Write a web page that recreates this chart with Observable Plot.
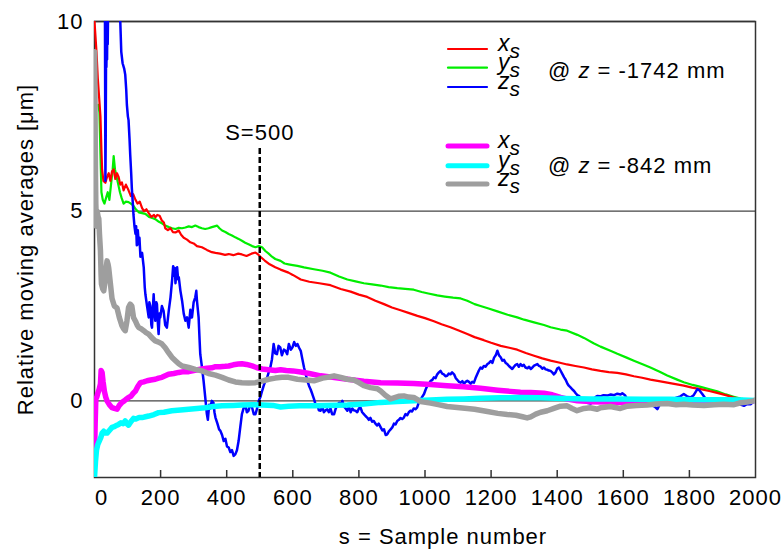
<!DOCTYPE html>
<html><head><meta charset="utf-8">
<script src="https://cdn.jsdelivr.net/npm/d3@7"></script>
<script src="https://cdn.jsdelivr.net/npm/@observablehq/plot@0.6"></script>
<style>
body{margin:0;background:#fff;}
#chart{width:783px;height:557px;}
#chart svg text{letter-spacing:1px;}
</style></head><body><div id="chart"></div>
<script>
// ---- data (sample number s, relative moving average in µm) ----
const xTickLabels = [200,400,600,800,1000,1200,1400,1600,1800,2000];
const xTickMarks = [200,400,600,800,1000,1200,1400,1600,1800];
const zeroLabel = [0];
const yTicks = [0,5,10];
const yDomain = [-2.02, 10];
const xDomain = [0, 2000];
const markerS = [500];
const markerTop = 6.65;
const markerLabel = {s: 500, v: 7.07, text: "S=500"};

const ys_1742 = [[12,7.8],[15,7.6],[18,6.5],[21,5.5],[25,5.3],[30,5.2],[35,5.35],[40,5.5],[45,5.3],[50,5.7],[55,6.1],[58,6.45],[62,6.1],[67,5.9],[72,5.7],[77,5.5],[82,5.35],[88,5.2],[95,5.25],[103,5.24],[110,5.2],[117,5.15],[125,5.05],[134,4.97],[144,4.95],[154,4.93],[165,4.85],[175,4.82],[184,4.79],[195,4.72],[204,4.68],[214,4.62],[225,4.58],[235,4.55],[245,4.53],[255,4.56],[265,4.55],[275,4.57],[285,4.6],[295,4.58],[305,4.62],[315,4.58],[325,4.55],[335,4.53],[345,4.55],[355,4.58],[363,4.6],[371,4.62],[378,4.55],[386,4.49],[396,4.45],[406,4.4],[416,4.36],[426,4.31],[436,4.27],[446,4.22],[456,4.17],[466,4.13],[477,4.08],[487,4.05],[497,4.08],[507,4.05],[517,3.95],[527,3.88],[537,3.8],[547,3.74],[563,3.69],[575,3.62],[587,3.6],[600,3.58],[614,3.56],[634,3.52],[664,3.47],[690,3.43],[714,3.38],[740,3.28],[765,3.2],[790,3.15],[815,3.1],[840,3.07],[866,3.04],[890,3.0],[916,2.97],[940,2.95],[966,2.93],[990,2.87],[1010,2.83],[1037,2.78],[1060,2.75],[1085,2.72],[1108,2.7],[1128,2.64],[1150,2.55],[1168,2.5],[1190,2.44],[1219,2.36],[1250,2.27],[1279,2.2],[1300,2.14],[1330,2.07],[1360,2.0],[1380,1.94],[1410,1.88],[1430,1.85],[1461,1.74],[1481,1.66],[1510,1.52],[1531,1.43],[1561,1.32],[1582,1.24],[1610,1.14],[1632,1.06],[1662,0.95],[1682,0.88],[1710,0.77],[1733,0.67],[1763,0.56],[1783,0.49],[1810,0.42],[1834,0.37],[1864,0.3],[1884,0.25],[1910,0.17],[1934,0.11],[1955,0.06],[1975,0.03],[2000,0]];

const xs_1742 = [[0,10],[3,9.6],[6,9.2],[10,8.5],[14,8.0],[18,7.5],[21,6.6],[23,6.1],[27,5.8],[33,5.75],[38,5.9],[43,6.0],[48,5.8],[53,6.05],[58,6.1],[63,5.85],[68,6.0],[73,5.9],[78,5.7],[83,5.76],[88,5.55],[95,5.7],[103,5.55],[110,5.4],[117,5.45],[124,5.3],[130,5.2],[137,5.25],[144,5.08],[150,5.0],[157,5.05],[164,4.95],[172,4.85],[180,4.9],[184,4.84],[190,4.9],[197,4.88],[204,4.75],[210,4.7],[214,4.55],[222,4.5],[230,4.55],[237,4.45],[245,4.44],[255,4.49],[262,4.38],[270,4.3],[280,4.25],[290,4.18],[300,4.15],[310,4.08],[325,4.05],[340,3.98],[355,3.92],[366,3.9],[380,3.88],[395,3.85],[406,3.87],[420,3.84],[435,3.88],[446,3.86],[460,3.82],[475,3.88],[487,3.91],[495,3.86],[502,3.8],[515,3.7],[530,3.6],[547,3.52],[563,3.46],[575,3.42],[587,3.38],[600,3.32],[624,3.2],[650,3.14],[680,3.1],[714,3.05],[745,2.95],[775,2.88],[800,2.8],[825,2.74],[850,2.64],[876,2.55],[900,2.46],[926,2.39],[950,2.32],[977,2.24],[1000,2.18],[1027,2.1],[1050,2.02],[1077,1.94],[1100,1.86],[1128,1.76],[1150,1.68],[1178,1.6],[1200,1.53],[1229,1.45],[1255,1.4],[1279,1.35],[1305,1.26],[1330,1.19],[1355,1.12],[1380,1.06],[1405,1.01],[1430,0.96],[1455,0.92],[1481,0.88],[1505,0.83],[1531,0.79],[1556,0.76],[1582,0.74],[1608,0.7],[1632,0.65],[1657,0.61],[1682,0.56],[1708,0.52],[1733,0.48],[1758,0.44],[1783,0.4],[1808,0.35],[1834,0.31],[1860,0.26],[1884,0.21],[1910,0.15],[1934,0.09],[1955,0.05],[1975,0.02],[2000,0]];

const zs_1742 = [[0,16],[25,15],[31,12],[33,5.8],[34,7],[35,9.2],[36,8.8],[37,9.6],[38,9.0],[39,10.2],[40,9.4],[42,11],[50,14],[65,13],[74,10.5],[78,10],[81,9.2],[85,8.9],[90,8.75],[93,8.6],[96,8.2],[98,7.8],[101,7.5],[103,7.4],[106,6.9],[108,6.5],[111,6.0],[113,5.6],[116,5.2],[118,4.9],[121,4.6],[124,4.4],[126,4.6],[128,4.1],[131,4.5],[134,4.13],[136,4.3],[139,3.8],[144,3.9],[149,3.52],[152,3.0],[154,2.81],[159,2.5],[164,2.2],[166,2.6],[169,2.5],[172,2.0],[174,1.93],[177,2.5],[179,2.81],[182,2.3],[184,2.11],[187,2.6],[189,2.55],[192,2.0],[194,1.76],[197,2.3],[199,2.2],[204,2.5],[209,2.37],[214,2.0],[219,1.93],[225,2.4],[230,2.73],[235,3.2],[238,3.55],[240,3.3],[243,3.5],[245,3.1],[248,3.4],[250,3.52],[253,3.2],[255,3.26],[260,2.9],[265,2.64],[270,2.3],[275,2.11],[280,2.2],[285,1.93],[290,2.4],[293,2.2],[295,2.2],[300,2.6],[305,2.73],[308,2.9],[310,2.64],[315,2.2],[318,1.6],[320,1.23],[325,0.9],[330,0.53],[335,0.1],[340,-0.35],[343,-0.5],[347,-0.1],[350,-0.2],[355,0.0],[360,-0.05],[363,-0.3],[366,-0.44],[372,-0.6],[377,-0.75],[381,-0.79],[386,-0.9],[391,-1.06],[396,-1.0],[401,-1.2],[406,-1.23],[411,-1.35],[416,-1.3],[421,-1.45],[426,-1.41],[431,-1.3],[436,-1.06],[441,-0.7],[446,-0.35],[451,-0.2],[456,-0.09],[461,-0.3],[466,-0.26],[471,-0.1],[477,-0.18],[482,-0.35],[487,-0.35],[492,-0.2],[497,0],[502,0.1],[507,0.26],[512,0.4],[517,0.53],[522,0.6],[527,0.75],[532,0.88],[537,1.1],[542,1.5],[547,1.25],[552,1.23],[557,1.45],[562,1.41],[567,1.2],[573,1.35],[578,1.32],[583,1.23],[588,1.5],[594,1.35],[599,1.41],[604,1.55],[609,1.45],[614,1.5],[619,1.4],[624,1.32],[629,1.1],[634,0.88],[639,0.7],[644,0.53],[649,0.4],[654,0.3],[659,0.18],[664,0.05],[669,-0.1],[674,-0.09],[679,-0.25],[684,-0.26],[689,-0.15],[694,-0.3],[699,-0.25],[704,-0.22],[709,-0.3],[714,-0.2],[719,-0.35],[725,-0.35],[730,-0.2],[735,-0.1],[740,-0.05],[745,-0.1],[750,0],[755,-0.15],[760,-0.2],[765,-0.26],[770,-0.15],[775,-0.3],[780,-0.2],[785,-0.25],[790,-0.26],[795,-0.3],[800,-0.2],[805,-0.18],[810,-0.3],[815,-0.35],[820,-0.4],[825,-0.44],[830,-0.5],[835,-0.45],[840,-0.55],[845,-0.53],[850,-0.6],[855,-0.65],[860,-0.6],[866,-0.7],[871,-0.78],[876,-0.75],[881,-0.9],[886,-0.88],[891,-0.8],[896,-0.75],[901,-0.7],[906,-0.6],[911,-0.62],[916,-0.53],[921,-0.5],[926,-0.45],[931,-0.48],[936,-0.44],[941,-0.35],[946,-0.38],[951,-0.3],[956,-0.26],[961,-0.28],[966,-0.2],[971,-0.22],[976,-0.18],[981,-0.05],[986,0.0],[991,0.1],[997,0.18],[1002,0.3],[1007,0.4],[1012,0.45],[1017,0.53],[1022,0.55],[1027,0.62],[1032,0.6],[1037,0.7],[1042,0.75],[1047,0.79],[1052,0.72],[1057,0.7],[1062,0.65],[1067,0.66],[1072,0.72],[1077,0.7],[1082,0.75],[1088,0.7],[1093,0.6],[1098,0.55],[1103,0.5],[1108,0.48],[1113,0.52],[1118,0.45],[1123,0.5],[1128,0.53],[1133,0.5],[1138,0.45],[1143,0.5],[1148,0.48],[1153,0.6],[1158,0.7],[1163,0.8],[1168,0.88],[1173,0.85],[1178,0.92],[1183,0.9],[1189,0.97],[1194,1.0],[1199,1.05],[1204,1.0],[1209,1.14],[1214,1.2],[1219,1.32],[1224,1.2],[1229,1.15],[1234,1.06],[1239,1.08],[1244,1.0],[1249,0.97],[1254,0.92],[1259,0.88],[1264,0.84],[1269,0.9],[1274,0.95],[1279,0.97],[1284,0.9],[1289,0.97],[1294,0.92],[1299,0.95],[1304,0.88],[1310,0.86],[1315,0.9],[1320,0.84],[1325,0.88],[1330,0.93],[1335,0.95],[1340,0.97],[1345,0.92],[1350,0.9],[1355,0.85],[1360,0.88],[1365,0.83],[1370,0.82],[1375,0.8],[1380,0.79],[1385,0.75],[1390,0.7],[1395,0.75],[1400,0.85],[1405,0.88],[1410,0.8],[1415,0.72],[1421,0.62],[1426,0.55],[1431,0.45],[1435,0.4],[1441,0.35],[1446,0.3],[1451,0.26],[1456,0.2],[1461,0.15],[1466,0.13],[1471,0.08],[1476,0.03],[1481,0],[1490,-0.05],[1501,-0.07],[1510,-0.03],[1516,0.1],[1521,0.13],[1530,0.12],[1540,0.15],[1552,0.14],[1562,0.17],[1572,0.15],[1582,0.19],[1592,0.17],[1597,0.2],[1605,0.15],[1612,0.04],[1625,0.0],[1642,0],[1660,-0.05],[1680,-0.1],[1695,-0.15],[1703,-0.22],[1710,-0.1],[1723,0],[1740,0.02],[1750,0.05],[1763,0.09],[1773,0.12],[1783,0.18],[1793,0.12],[1803,0.09],[1813,0.15],[1820,0.25],[1824,0.31],[1830,0.28],[1839,0.18],[1847,0.08],[1854,0],[1870,0.02],[1884,0],[1900,-0.03],[1920,-0.05],[1940,-0.08],[1955,-0.1],[1965,-0.13],[1975,-0.08],[1985,-0.09],[1993,-0.03],[2000,0]];

const xs_842 = [[0,-1.4],[2,-0.6],[4,0.05],[7,0.1],[10,0.2],[14,0.3],[18,0.45],[20,0.8],[23,0.75],[26,0.5],[30,0.25],[34,0.1],[38,0],[45,-0.1],[53,-0.18],[60,-0.2],[68,-0.22],[75,-0.12],[83,-0.04],[90,0.0],[97,0.05],[103,0.09],[110,0.12],[117,0.2],[124,0.26],[131,0.38],[139,0.48],[149,0.5],[159,0.53],[170,0.55],[184,0.57],[194,0.6],[204,0.62],[214,0.66],[224,0.7],[240,0.72],[255,0.75],[270,0.77],[285,0.77],[300,0.8],[312,0.82],[325,0.84],[340,0.86],[355,0.87],[366,0.9],[380,0.9],[395,0.91],[406,0.92],[420,0.95],[435,0.97],[446,0.98],[460,0.96],[477,0.92],[490,0.88],[507,0.84],[527,0.82],[547,0.8],[563,0.82],[580,0.8],[600,0.79],[624,0.76],[650,0.72],[684,0.66],[720,0.62],[765,0.57],[815,0.52],[866,0.48],[916,0.47],[966,0.46],[1017,0.43],[1067,0.4],[1117,0.37],[1168,0.33],[1220,0.28],[1259,0.25],[1289,0.23],[1320,0.22],[1360,0.2],[1385,0.16],[1410,0.09],[1435,0.04],[1461,0.0],[1500,-0.02],[1550,-0.03],[1612,-0.04],[1680,-0.03],[1750,-0.02],[1830,-0.02],[1900,-0.01],[1960,0],[2000,0]];

const ys_842 = [[0,-2.02],[3,-1.6],[6,-1.3],[10,-1.15],[15,-1.05],[19,-0.97],[23,-0.85],[28,-0.8],[33,-0.85],[38,-0.85],[45,-0.78],[53,-0.7],[60,-0.68],[68,-0.64],[73,-0.62],[80,-0.58],[87,-0.6],[93,-0.53],[98,-0.6],[103,-0.64],[110,-0.55],[118,-0.46],[125,-0.48],[135,-0.44],[144,-0.44],[154,-0.42],[164,-0.4],[180,-0.36],[194,-0.31],[210,-0.3],[234,-0.26],[260,-0.24],[285,-0.22],[310,-0.2],[335,-0.18],[360,-0.15],[386,-0.13],[420,-0.12],[446,-0.11],[480,-0.1],[507,-0.11],[540,-0.12],[563,-0.16],[587,-0.14],[620,-0.13],[664,-0.13],[700,-0.12],[765,-0.11],[815,-0.08],[866,-0.04],[916,-0.02],[966,0],[1017,0.02],[1067,0.04],[1117,0.05],[1168,0.07],[1230,0.08],[1289,0.09],[1350,0.08],[1420,0.06],[1500,0.05],[1580,0.05],[1660,0.04],[1740,0.04],[1820,0.03],[1900,0.03],[1960,0.02],[2000,0.01]];

const zs_842 = [[0,9.2],[1,8.6],[2,7.2],[3,6.0],[4,5.2],[6,4.6],[8,5.0],[11,4.85],[13,4.8],[15,4.4],[18,3.96],[20,3.3],[21,3.08],[25,2.95],[28,2.9],[31,3.1],[33,3.25],[36,3.55],[38,3.69],[41,3.6],[43,3.5],[48,3.1],[53,2.7],[60,2.5],[68,2.45],[75,2.2],[83,1.98],[88,1.9],[93,1.85],[98,2.1],[103,2.46],[108,2.55],[113,2.5],[118,2.2],[124,2.1],[129,2.0],[134,1.93],[141,1.9],[149,1.85],[156,1.8],[164,1.76],[174,1.66],[184,1.58],[194,1.55],[204,1.5],[214,1.4],[224,1.27],[234,1.15],[245,1.06],[255,0.98],[265,0.92],[275,0.9],[285,0.88],[305,0.83],[325,0.79],[345,0.72],[366,0.68],[386,0.62],[406,0.55],[426,0.5],[446,0.48],[466,0.47],[487,0.48],[507,0.52],[527,0.57],[547,0.6],[567,0.62],[587,0.62],[614,0.57],[640,0.55],[664,0.53],[690,0.6],[710,0.63],[725,0.66],[745,0.62],[765,0.57],[785,0.55],[800,0.48],[815,0.4],[835,0.35],[856,0.32],[866,0.26],[880,0.15],[896,0.05],[906,0.08],[920,0.12],[936,0.13],[950,0.1],[966,0.09],[987,-0.02],[1017,-0.06],[1040,-0.1],[1067,-0.15],[1090,-0.17],[1128,-0.2],[1150,-0.22],[1189,-0.28],[1220,-0.33],[1249,-0.36],[1275,-0.38],[1295,-0.42],[1309,-0.45],[1320,-0.42],[1335,-0.35],[1350,-0.3],[1370,-0.26],[1390,-0.2],[1410,-0.14],[1430,-0.13],[1445,-0.2],[1460,-0.26],[1481,-0.2],[1500,-0.18],[1521,-0.22],[1531,-0.18],[1561,-0.15],[1591,-0.2],[1612,-0.14],[1640,-0.12],[1672,-0.11],[1700,-0.08],[1733,-0.07],[1760,-0.1],[1783,-0.09],[1810,-0.11],[1844,-0.12],[1875,-0.1],[1904,-0.09],[1935,-0.1],[1955,-0.05],[1975,-0.03],[1995,0.0],[2000,0.02]];

const seriesNames = ["x","y","z"];
const groupValues = ["-1742 mm", "-842 mm"];
const colors1742 = ["#ff0000","#00ee00","#0000ff"];
const colors842 = ["#ff00ff","#00ffff","#9e9e9e"];
const yLabel = "Relative moving averages [\u03bcm]";
const xLabel = "s = Sample number";

// ---- chart ----
const W = 783, H = 557, mL = 94, mR = 28, mT = 21, mB = 80;
const FONT = "'Liberation Sans', Arial, sans-serif";
const rows = pts => pts.map(([s, v]) => ({s, v}));
const line = (pts, color, w) => Plot.line(rows(pts), {x: "s", y: "v", stroke: color, strokeWidth: w, clip: true});
const fmt = d => String(d);

const plot = Plot.plot({
  width: W, height: H,
  marginLeft: mL, marginRight: mR, marginTop: mT, marginBottom: mB,
  style: {fontFamily: FONT, fontSize: "22px", background: "#fff", color: "#000"},
  x: {domain: xDomain, label: null},
  y: {domain: yDomain, label: null},
  marks: [
    Plot.ruleY(yTicks, {stroke: "#444", strokeWidth: 1.3}),
    Plot.frame({stroke: "#333", strokeWidth: 1.5}),
    Plot.tickX(xTickMarks, {insetTop: (H - mT - mB) - 7, stroke: "#333", strokeWidth: 1.5}),
    Plot.axisX(xTickLabels, {tickSize: 0, tickPadding: 12, label: null, fontSize: 22, tickFormat: fmt}),
    Plot.axisX(zeroLabel, {tickSize: 0, tickPadding: 12, dx: 7, label: null, fontSize: 22, tickFormat: fmt}),
    Plot.axisY(yTicks, {tickSize: 0, tickPadding: 11, label: null, fontSize: 22, tickFormat: fmt}),
    line(ys_1742, colors1742[1], 2.2),
    line(xs_1742, colors1742[0], 2.2),
    line(zs_1742, colors1742[2], 2.5),
    line(xs_842, colors842[0], 5.5),
    line(ys_842, colors842[1], 5.5),
    line(zs_842, colors842[2], 5.5),
    Plot.ruleX(markerS, {y1: markerTop, y2: yDomain[0], stroke: "#000", strokeWidth: 2.5, strokeDasharray: "6,3"}),
    Plot.text([markerLabel], {x: "s", y: "v", text: "text", fontSize: 22}),
    Plot.text([xLabel], {frameAnchor: "bottom", dx: 18, dy: 66, fontSize: 22}),
    Plot.text([yLabel], {frameAnchor: "left", textAnchor: "middle", rotate: -90, dx: -69, fontSize: 22})
  ]
});

// ---- legend ----
const svg = d3.select(plot);
const lg = svg.append("g").attr("font-family", FONT).attr("text-anchor", "start").attr("fill", "#000");
const groups = [
  {colors: colors1742, width: 2.2, ys: [49, 67.7, 87], value: groupValues[0], labelY: 78},
  {colors: colors842, width: 5, ys: [146, 165.7, 184], value: groupValues[1], labelY: 173}
];
groups.forEach(g => {
  g.colors.forEach((c, i) => {
    lg.append("line").attr("x1", 448).attr("x2", 487).attr("y1", g.ys[i]).attr("y2", g.ys[i])
      .attr("stroke", c).attr("stroke-width", g.width).attr("stroke-linecap", "round");
    const t = lg.append("text").attr("x", 498).attr("y", g.ys[i] + 2).attr("font-size", 23)
      .attr("font-style", "italic").style("letter-spacing", "0px");
    t.append("tspan").text(seriesNames[i]);
    t.append("tspan").attr("dy", 7).attr("font-size", 21).text("s");
  });
  const t2 = lg.append("text").attr("x", 548).attr("y", g.labelY).attr("font-size", 22);
  t2.append("tspan").text("@ ");
  t2.append("tspan").attr("font-style", "italic").text("z");
  t2.append("tspan").text(" = " + g.value);
});

document.getElementById("chart").append(plot);
</script>
</body></html>
